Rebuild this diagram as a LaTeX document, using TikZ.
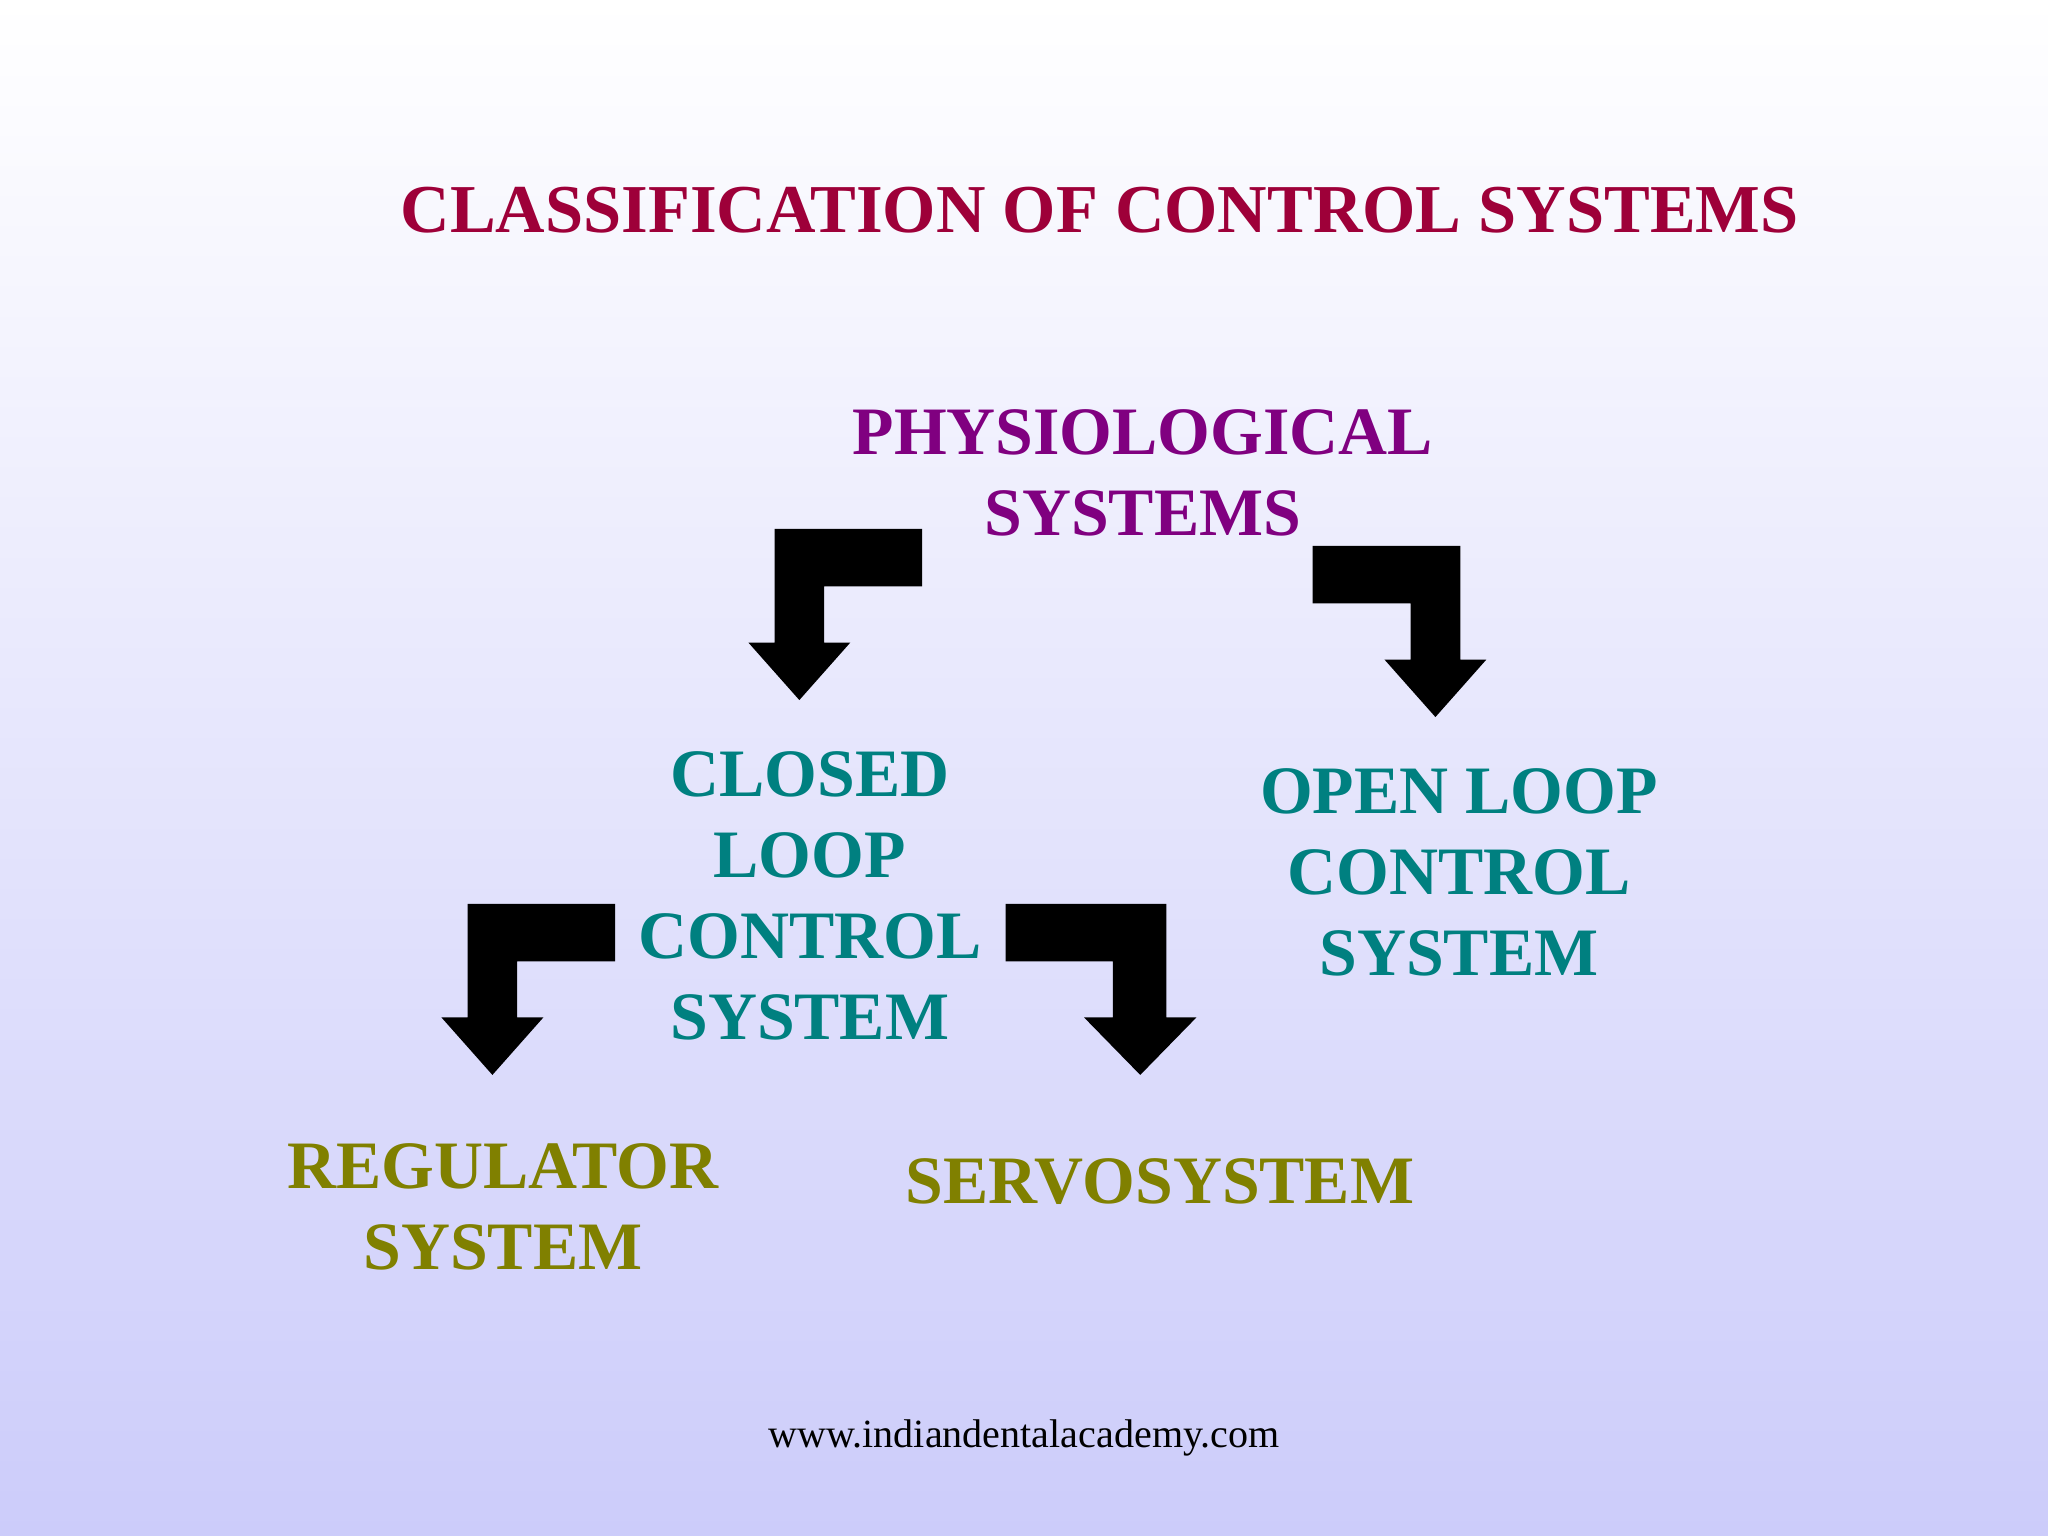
\documentclass[tikz,border=0pt]{standalone}
\usepackage{fontspec}
\setmainfont{Liberation Serif}
\definecolor{ttl}{RGB}{158,0,57}
\definecolor{pur}{RGB}{128,0,128}
\definecolor{tea}{RGB}{0,128,128}
\definecolor{oli}{RGB}{128,128,0}
\definecolor{bot}{RGB}{204,204,250}
\begin{document}
\begin{tikzpicture}[x=0.013061cm,y=-0.013061cm,
  lbl/.style={font=\bfseries\fontsize{19.3}{23}\selectfont,align=center,inner sep=0pt},
  arr/.style={fill=black,draw=none}]
\shade[top color=white,bottom color=bot] (0,0) rectangle (1568,1176);
\useasboundingbox (0,0) rectangle (1568,1176);
\node[lbl,text=ttl,font=\bfseries\fontsize{19.5}{23}\selectfont] (title) at (842,161) {CLASSIFICATION OF CONTROL SYSTEMS};
\node[lbl,text=pur] (phys) at (875,362) {PHYSIOLOGICAL\\SYSTEMS};
\node[lbl,text=tea] (closed) at (620,686) {CLOSED\\LOOP\\CONTROL\\SYSTEM};
\node[lbl,text=tea] (open) at (1117,668) {OPEN LOOP\\CONTROL\\SYSTEM};
\node[lbl,text=oli] (reg) at (385,924) {REGULATOR\\SYSTEM};
\node[lbl,text=oli] (servo) at (888,905) {SERVOSYSTEM};
\node[font=\fontsize{11.4}{14}\selectfont,inner sep=0pt] (web) at (784,1101) {www.indiandentalacademy.com};
\fill[arr] (706,405)--(593,405)--(593,492)--(573,492)--(612,536)--(651,492)--(631,492)--(631,449)--(706,449)--cycle;
\fill[arr] (1005,418)--(1118,418)--(1118,505)--(1138,505)--(1099,549)--(1060,505)--(1080,505)--(1080,462)--(1005,462)--cycle;
\fill[arr] (471,692)--(358,692)--(358,779)--(338,779)--(377,823)--(416,779)--(396,779)--(396,736)--(471,736)--cycle;
\fill[arr] (770,692)--(893,692)--(893,779)--(916,779)--(873,823)--(830,779)--(852,779)--(852,736)--(770,736)--cycle;
\end{tikzpicture}
\end{document}
